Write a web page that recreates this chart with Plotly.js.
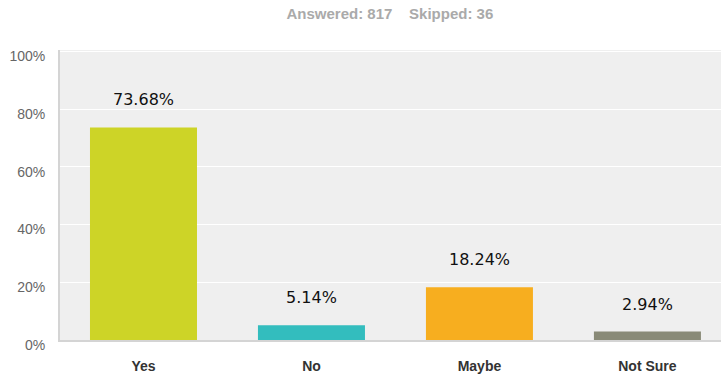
<!DOCTYPE html>
<html>
<head>
<meta charset="utf-8">
<script src="https://cdn.plot.ly/plotly-3.0.1.min.js"></script>
<style>html,body{margin:0;padding:0;background:#fff}#chart{width:722px;height:377px}</style>
</head>
<body>
<div id="chart"></div>
<script>
const categories = ["Yes", "No", "Maybe", "Not Sure"];
const percentages = [73.68, 5.14, 18.24, 2.94];
const barColors = ["#cdd427", "#33bdbe", "#f7ae1f", "#898a77"];
const yTickValues = [0, 20, 40, 60, 80, 100];
const yTickLabels = ["0%", "20%", "40%", "60%", "80%", "100%"];
const answered = 817;
const skipped = 36;

const trace = {
  type: "bar",
  x: categories,
  y: percentages,
  marker: {color: barColors},
  hoverinfo: "none"
};

const annotations = categories.map((c, i) => ({
  x: c, y: percentages[i], xref: "x", yref: "y",
  text: percentages[i].toFixed(2) + "%",
  showarrow: false, yanchor: "bottom", yshift: 16,
  font: {family: "DejaVu Sans", size: 16, color: "#111"}
}));

const layout = {
  width: 722, height: 377,
  margin: {l: 60, r: 1, t: 50, b: 37},
  paper_bgcolor: "#ffffff",
  plot_bgcolor: "#efefef",
  title: {
    text: "<b>Answered: " + answered + "&nbsp;&nbsp;&nbsp;&nbsp;Skipped: " + skipped + "</b>",
    font: {family: "Liberation Sans, Arial", size: 15, color: "#aaaaaa"},
    x: 0.54, xanchor: "center", y: 0.963, yanchor: "middle"
  },
  bargap: 0.363,
  showlegend: false,
  xaxis: {
    range: [-0.497, 3.438],
    showgrid: false, zeroline: false,
    showline: true, linecolor: "#d4d4d4", linewidth: 2,
    ticks: "", ticklabelstandoff: 12,
    tickfont: {family: "Liberation Sans, Arial", size: 14, color: "#333", weight: "bold"},
    fixedrange: true
  },
  yaxis: {
    range: [0, 100.5],
    tickvals: yTickValues, ticktext: yTickLabels,
    showgrid: true, gridcolor: "#ffffff", gridwidth: 1,
    zeroline: false,
    showline: true, linecolor: "#d4d4d4", linewidth: 2,
    ticks: "", ticklabelstandoff: 10, ticklabelshift: 5,
    tickfont: {family: "Liberation Sans, Arial", size: 14, color: "#666"},
    fixedrange: true
  },
  annotations: annotations
};

Plotly.newPlot("chart", [trace], layout, {displayModeBar: false, staticPlot: true});
</script>
</body>
</html>
